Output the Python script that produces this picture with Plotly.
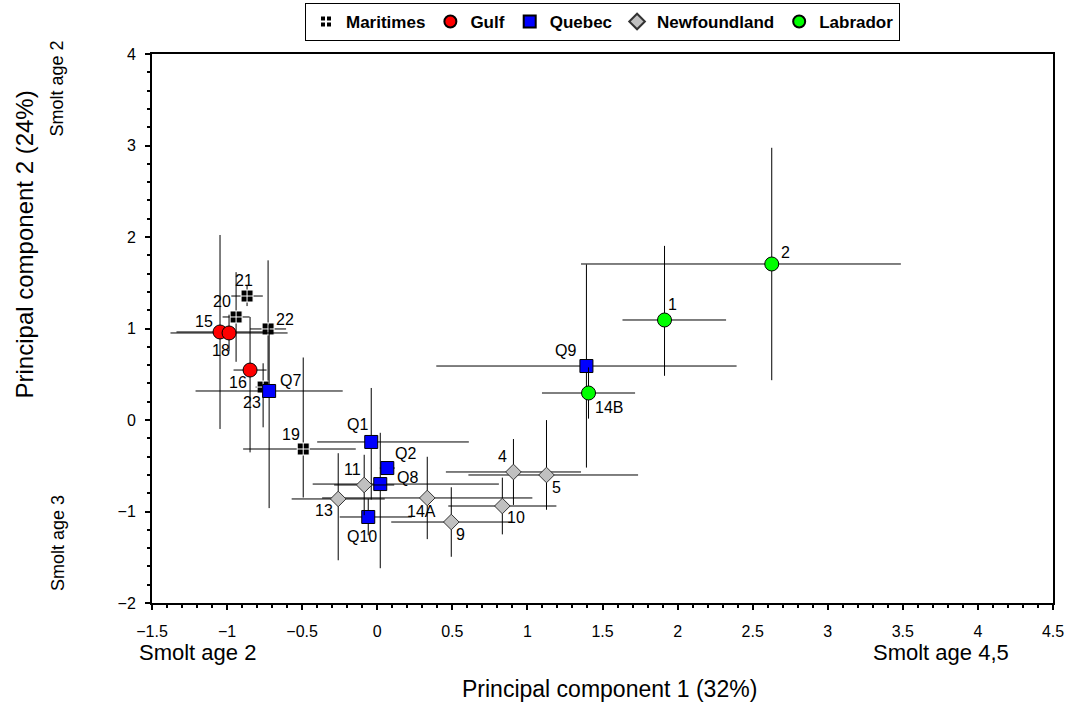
import plotly.graph_objects as go

# ---- data (PC1, PC2, asymmetric error bars) ----
mar_labels = ["21", "20", "22", "23", "19"]
mar_x = [-0.867, -0.94, -0.727, -0.76, -0.493]
mar_y = [1.355, 1.126, 0.995, 0.36, -0.317]
mar_xp = [0.105, 0.09, 0.12, 0.05, 0.35]
mar_xm = [0.105, 0.09, 0.12, 0.05, 0.40]
mar_yp = [0.11, 0.49, 0.75, 0.26, 1.0]
mar_ym = [0.11, 0.49, 0.75, 0.44, 0.53]

gulf_labels = ["15", "18", "16"]
gulf_x = [-1.047, -0.987, -0.847]
gulf_y = [0.962, 0.951, 0.546]
gulf_xp = [0.29, 0.39, 0.11]
gulf_xm = [0.29, 0.39, 0.11]
gulf_yp = [1.06, 0.2, 0.58]
gulf_ym = [1.06, 0.2, 0.9]

que_labels = ["Q7", "Q1", "Q2", "Q8", "Q10", "Q9"]
que_x = [-0.72, -0.04, 0.067, 0.02, -0.06, 1.393]
que_y = [0.317, -0.24, -0.525, -0.70, -1.06, 0.59]
que_xp = [0.49, 0.65, 0.05, 0.79, 0.29, 1.0]
que_xm = [0.49, 0.36, 0.05, 0.45, 0.19, 1.0]
que_yp = [0.72, 0.59, 0.05, 0.56, 0.2, 1.11]
que_ym = [1.28, 0.63, 0.05, 0.92, 0.2, 1.11]

nfl_labels = ["4", "5", "10", "9", "14A", "13", "11"]
nfl_x = [0.907, 1.127, 0.833, 0.493, 0.333, -0.26, -0.087]
nfl_y = [-0.568, -0.601, -0.94, -1.115, -0.852, -0.863, -0.71]
nfl_xp = [0.45, 0.61, 0.36, 0.40, 0.70, 0.31, 0.20]
nfl_xm = [0.45, 0.52, 0.36, 0.40, 0.70, 0.31, 0.20]
nfl_yp = [0.36, 0.60, 0.31, 0.38, 0.45, 0.50, 0.33]
nfl_ym = [0.36, 0.38, 0.31, 0.38, 0.45, 0.67, 0.33]

lab_labels = ["14B", "1", "2"]
lab_x = [1.407, 1.913, 2.627]
lab_y = [0.295, 1.093, 1.705]
lab_xp = [0.31, 0.41, 0.86]
lab_xm = [0.31, 0.28, 1.27]
lab_yp = [0.28, 0.81, 1.27]
lab_ym = [0.28, 0.61, 1.27]

# label offsets in pixels (dx right, dy down)
label_offsets = {
    "21": (-3, -16), "20": (-14, -15), "15": (-16, -10), "18": (-8, 18),
    "22": (17, -9), "16": (-12, 12), "23": (-11, 15), "Q7": (21, -10),
    "19": (-12, -15), "Q1": (-14, -17), "Q2": (18, -15), "Q8": (27, -7),
    "11": (-12, -15), "13": (-14, 12), "14A": (-6, 14), "Q10": (-6, 20),
    "9": (9, 12), "10": (14, 11), "4": (-11, -15), "5": (10, 13),
    "Q9": (-21, -16), "14B": (20, 14), "1": (8, -15), "2": (14, -11),
}

FONT = "Arial, Liberation Sans, sans-serif"

groups = [
    ("Maritimes", mar_labels, mar_x, mar_y, mar_xp, mar_xm, mar_yp, mar_ym,
     dict(symbol="square-cross", size=12, color="black", line=dict(color="white", width=1))),
    ("Gulf", gulf_labels, gulf_x, gulf_y, gulf_xp, gulf_xm, gulf_yp, gulf_ym,
     dict(symbol="circle", size=14, color="#FF0000", line=dict(color="black", width=1))),
    ("Quebec", que_labels, que_x, que_y, que_xp, que_xm, que_yp, que_ym,
     dict(symbol="square", size=13, color="#0000FF", line=dict(color="black", width=1))),
    ("Newfoundland", nfl_labels, nfl_x, nfl_y, nfl_xp, nfl_xm, nfl_yp, nfl_ym,
     dict(symbol="diamond", size=12, color="#C0C0C0", line=dict(color="#333333", width=1))),
    ("Labrador", lab_labels, lab_x, lab_y, lab_xp, lab_xm, lab_yp, lab_ym,
     dict(symbol="circle", size=14, color="#00FF00", line=dict(color="black", width=1))),
]

fig = go.Figure()
annotations = []
for name, labels, xs, ys, xp, xm, yp, ym, marker in groups:
    fig.add_trace(go.Scatter(
        x=xs, y=ys, mode="markers", name=name, marker=marker,
        error_x=dict(type="data", symmetric=False, array=xp, arrayminus=xm,
                     color="black", thickness=1, width=0),
        error_y=dict(type="data", symmetric=False, array=yp, arrayminus=ym,
                     color="black", thickness=1, width=0),
    ))
    for lab, x, y in zip(labels, xs, ys):
        dx, dy = label_offsets[lab]
        annotations.append(dict(x=x, y=y, xref="x", yref="y", text=lab, showarrow=False,
                                xshift=dx, yshift=-dy,
                                font=dict(family=FONT, size=16, color="black")))

# axis/side texts
side = [
    dict(text="Smolt age 2", x=0.05, y=-0.091, size=22, angle=0),
    dict(text="Smolt age 4,5", x=0.876, y=-0.091, size=22, angle=0),
    dict(text="Principal component 1 (32%)", x=0.508, y=-0.157, size=23, angle=0),
    dict(text="Principal component 2 (24%)", x=-0.141, y=0.653, size=24, angle=-90),
    dict(text="Smolt age 2", x=-0.105, y=0.938, size=18, angle=-90),
    dict(text="Smolt age 3", x=-0.105, y=0.11, size=18, angle=-90),
]
for s in side:
    annotations.append(dict(text=s["text"], x=s["x"], y=s["y"], xref="paper", yref="paper",
                            showarrow=False, textangle=s["angle"], xanchor="center", yanchor="middle",
                            font=dict(family=FONT, size=s["size"], color="black")))

axis_common = dict(showgrid=False, zeroline=False, showline=True, linecolor="black", linewidth=2,
                   mirror=True, ticks="outside", tickcolor="black", tickwidth=2, ticklen=5)

fig.update_layout(
    width=1072, height=709,
    margin=dict(l=152, r=19, t=54, b=106, autoexpand=False),
    plot_bgcolor="white", paper_bgcolor="white",
    font=dict(family=FONT, color="black"),
    xaxis=dict(range=[-1.5, 4.5], dtick=0.5, tick0=0, **axis_common,
               tickfont=dict(family=FONT, size=16, color="black"), ticklabelstandoff=8,
               minor=dict(dtick=0.1, ticks="outside", ticklen=3, tickcolor="black", tickwidth=1.5)),
    yaxis=dict(range=[-2, 4], dtick=1, tick0=0, **axis_common,
               tickfont=dict(family=FONT, size=16, color="black"), ticklabelstandoff=6,
               minor=dict(dtick=0.2, ticks="outside", ticklen=3, tickcolor="black", tickwidth=1.5)),
    legend=dict(orientation="h", x=0.5, xanchor="center", y=1.093, yanchor="top",
                bordercolor="black", borderwidth=1, bgcolor="white",
                font=dict(family=FONT, size=17, color="black", weight="bold"),
                itemsizing="constant", tracegroupgap=0),
    annotations=annotations,
    showlegend=True,
)

fig.write_html("out.html")
